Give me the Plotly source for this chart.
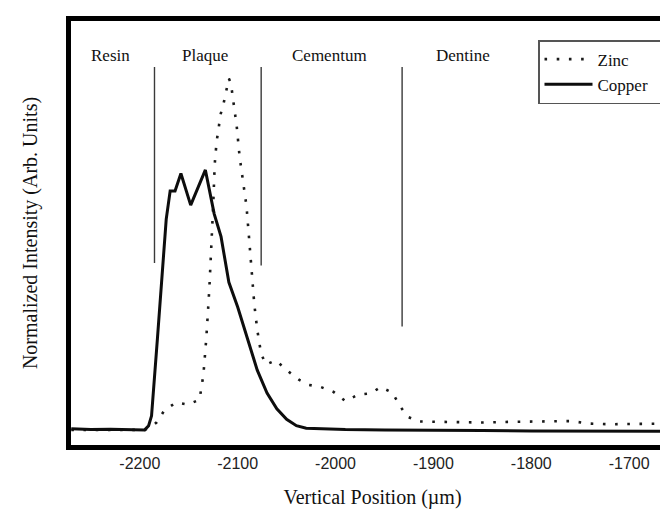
import plotly.graph_objects as go

# ---------------- data ----------------
copper_x = [-2270, -2250, -2230, -2210, -2195, -2191, -2188, -2182, -2176, -2173,
            -2169, -2164, -2158, -2148, -2133, -2128, -2124, -2117, -2109, -2100,
            -2090, -2080, -2070, -2060, -2050, -2040, -2030, -2010, -1990, -1950,
            -1900, -1850, -1800, -1750, -1700, -1655]
copper_y = [0.003, 0.001, 0.002, 0.0, 0.0, 0.012, 0.04, 0.26, 0.49, 0.60,
            0.68, 0.68, 0.73, 0.64, 0.74, 0.675, 0.615, 0.55, 0.42, 0.35,
            0.262, 0.17, 0.105, 0.06, 0.03, 0.012, 0.005, 0.002, 0.001, 0.0,
            -0.002, -0.002, -0.003, -0.003, -0.004, -0.004]

zinc_x = [-2270, -2230, -2195, -2189, -2183, -2175, -2163, -2151, -2139, -2135,
          -2132, -2129, -2127, -2125, -2123.5, -2121.5, -2119.5, -2118, -2114.5, -2111.5,
          -2109, -2107, -2104.5, -2101, -2098, -2094.5, -2091, -2089, -2087, -2085,
          -2083, -2080, -2076, -2071, -2061, -2049, -2037, -2027, -2015, -2002,
          -1990, -1977, -1964, -1954, -1942, -1935, -1927, -1915, -1880, -1850,
          -1820, -1790, -1760, -1740, -1720, -1690, -1655]
zinc_y = [0.0, 0.0, 0.0, 0.008, 0.021, 0.055, 0.078, 0.072, 0.086, 0.157,
          0.263, 0.40, 0.51, 0.64, 0.755, 0.822, 0.856, 0.893, 0.928, 0.965,
          1.0, 0.988, 0.93, 0.865, 0.777, 0.708, 0.637, 0.568, 0.498, 0.425,
          0.357, 0.285, 0.216, 0.186, 0.198, 0.168, 0.142, 0.128, 0.122, 0.108,
          0.082, 0.10, 0.104, 0.122, 0.106, 0.072, 0.038, 0.024, 0.022, 0.021,
          0.023, 0.024, 0.025, 0.018, 0.016, 0.017, 0.018]

region_names = ["Resin", "Plaque", "Cementum", "Dentine"]
region_label_x = [-2230, -2133, -2006, -1870]
region_label_y = 1.065

boundary_x = [-2185, -2076, -1932]
boundary_top = [1.033, 1.033, 1.033]
boundary_bottom = [0.475, 0.468, 0.294]

x_ticks = [-2200, -2100, -2000, -1900, -1800, -1700]
x_range = [-2270.3, -1654.2]
y_range = [-0.043, 1.164]

SERIF = "Liberation Serif, Times New Roman, serif"
SANS = "Liberation Sans, Arial, sans-serif"
PAD = "\u00a0" * 5

fig = go.Figure()

fig.add_trace(go.Scatter(
    x=zinc_x, y=zinc_y, mode="lines", name="Zinc",
    line=dict(color="#1a1a1a", width=2.6, dash="2.6px,9.6px"),
))
fig.add_trace(go.Scatter(
    x=copper_x, y=copper_y, mode="lines", name="Copper" + PAD,
    line=dict(color="#0d0d0d", width=3),
))

for bx, bt, bb in zip(boundary_x, boundary_top, boundary_bottom):
    fig.add_shape(type="line", xref="x", yref="y", x0=bx, x1=bx, y0=bb, y1=bt,
                  line=dict(color="#3a3a3a", width=1.4))

for name, lx in zip(region_names, region_label_x):
    fig.add_annotation(x=lx, y=region_label_y, xref="x", yref="y", text=name,
                       showarrow=False, font=dict(family=SERIF, size=17, color="#111"),
                       xanchor="center", yanchor="middle")

fig.update_layout(
    width=668, height=510,
    margin=dict(l=63, r=0, t=13, b=73),
    paper_bgcolor="white", plot_bgcolor="white",
    showlegend=True,
    legend=dict(
        x=0.775, y=0.955, xanchor="left", yanchor="top",
        bordercolor="#555", borderwidth=1.5, bgcolor="white",
        font=dict(family=SERIF, size=17, color="#111"),
        tracegroupgap=8, itemwidth=48,
    ),
    xaxis=dict(
        range=x_range, tickmode="array", tickvals=x_ticks,
        ticktext=[str(v) for v in x_ticks],
        showgrid=False, zeroline=False, ticks="",
        showline=True, linecolor="black", linewidth=5, mirror=True,
        tickfont=dict(family=SANS, size=16, color="#222"),
        title=dict(text="Vertical Position (µm)", standoff=20,
                   font=dict(family=SERIF, size=20, color="#111")),
    ),
    yaxis=dict(
        range=y_range, showticklabels=False, showgrid=False, zeroline=False,
        ticks="", showline=True, linecolor="black", linewidth=5, mirror=False,
        title=dict(text="Normalized Intensity (Arb. Units)", standoff=25,
                   font=dict(family=SERIF, size=20, color="#111")),
    ),
)

fig.write_html("out.html")
